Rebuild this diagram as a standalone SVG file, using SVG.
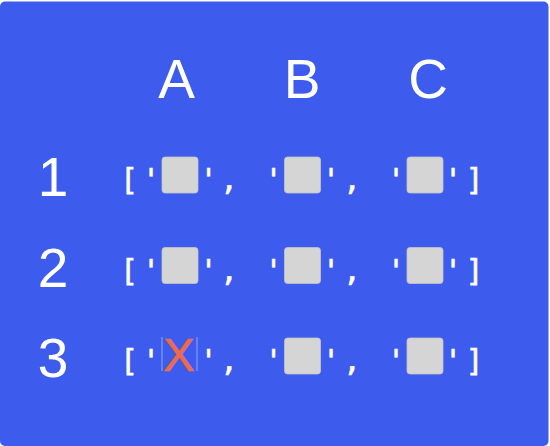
<svg xmlns="http://www.w3.org/2000/svg" width="550" height="446" viewBox="0 0 550 446">
<style>
.hdr{font-family:"Liberation Sans",Arial,sans-serif;font-size:55px;fill:#ffffff;text-anchor:middle}
.p{font-family:"DejaVu Sans Mono","Liberation Mono",monospace;font-size:30px;fill:#ffffff;stroke:#ffffff;stroke-width:0.6;text-anchor:middle}
.sq{fill:#d5d5d5;stroke:#c4c4c4;stroke-width:0.8}
.x{font-family:"Liberation Sans",Arial,sans-serif;font-size:47px;fill:#ee6a4c;stroke:#ee6a4c;stroke-width:0.7;text-anchor:middle}
.edge{stroke:#ffffff;stroke-opacity:0.45;stroke-width:1}
</style>
<rect x="0" y="0" width="550" height="446" fill="#ffffff"/>
<rect id="board" x="0" y="1.5" width="548.5" height="444.5" rx="5" fill="#3d5ced"/>
<g id="headers">
<text class="hdr" x="176.5" y="98">A</text>
<text class="hdr" x="302" y="98">B</text>
<text class="hdr" x="428" y="98">C</text>
<text class="hdr" x="53" y="196">1</text>
<text class="hdr" x="53" y="287">2</text>
<text class="hdr" x="53" y="377">3</text>
</g>
<g id="row1">
<text class="p" x="129" y="190">[</text>
<text class="p" x="151" y="190">'</text>
<rect id="cell-A1" class="sq" x="162" y="157" width="36" height="36" rx="3"/>
<text class="p" x="208.5" y="190">'</text>
<text class="p" x="229" y="190">,</text>
<text class="p" x="273.5" y="190">'</text>
<rect id="cell-B1" class="sq" x="284.5" y="157" width="36" height="36" rx="3"/>
<text class="p" x="331" y="190">'</text>
<text class="p" x="352" y="190">,</text>
<text class="p" x="396" y="190">'</text>
<rect id="cell-C1" class="sq" x="407" y="157" width="36" height="36" rx="3"/>
<text class="p" x="453" y="190">'</text>
<text class="p" x="474.5" y="190">]</text>
</g>
<g id="row2">
<text class="p" x="129" y="280.5">[</text>
<text class="p" x="151" y="280.5">'</text>
<rect id="cell-A2" class="sq" x="162" y="247.5" width="36" height="36" rx="3"/>
<text class="p" x="208.5" y="280.5">'</text>
<text class="p" x="229" y="280.5">,</text>
<text class="p" x="273.5" y="280.5">'</text>
<rect id="cell-B2" class="sq" x="284.5" y="247.5" width="36" height="36" rx="3"/>
<text class="p" x="331" y="280.5">'</text>
<text class="p" x="352" y="280.5">,</text>
<text class="p" x="396" y="280.5">'</text>
<rect id="cell-C2" class="sq" x="407" y="247.5" width="36" height="36" rx="3"/>
<text class="p" x="453" y="280.5">'</text>
<text class="p" x="474.5" y="280.5">]</text>
</g>
<g id="row3">
<text class="p" x="129" y="371">[</text>
<text class="p" x="151" y="371">'</text>
<g id="cell-A3">
<line class="edge" x1="162" y1="337" x2="162" y2="371"/>
<line class="edge" x1="197" y1="337" x2="197" y2="371"/>
<text class="x" x="179" y="370.5">X</text>
</g>
<text class="p" x="208.5" y="371">'</text>
<text class="p" x="229" y="371">,</text>
<text class="p" x="273.5" y="371">'</text>
<rect id="cell-B3" class="sq" x="284.5" y="338" width="36" height="36" rx="3"/>
<text class="p" x="331" y="371">'</text>
<text class="p" x="352" y="371">,</text>
<text class="p" x="396" y="371">'</text>
<rect id="cell-C3" class="sq" x="407" y="338" width="36" height="36" rx="3"/>
<text class="p" x="453" y="371">'</text>
<text class="p" x="474.5" y="371">]</text>
</g>
</svg>
